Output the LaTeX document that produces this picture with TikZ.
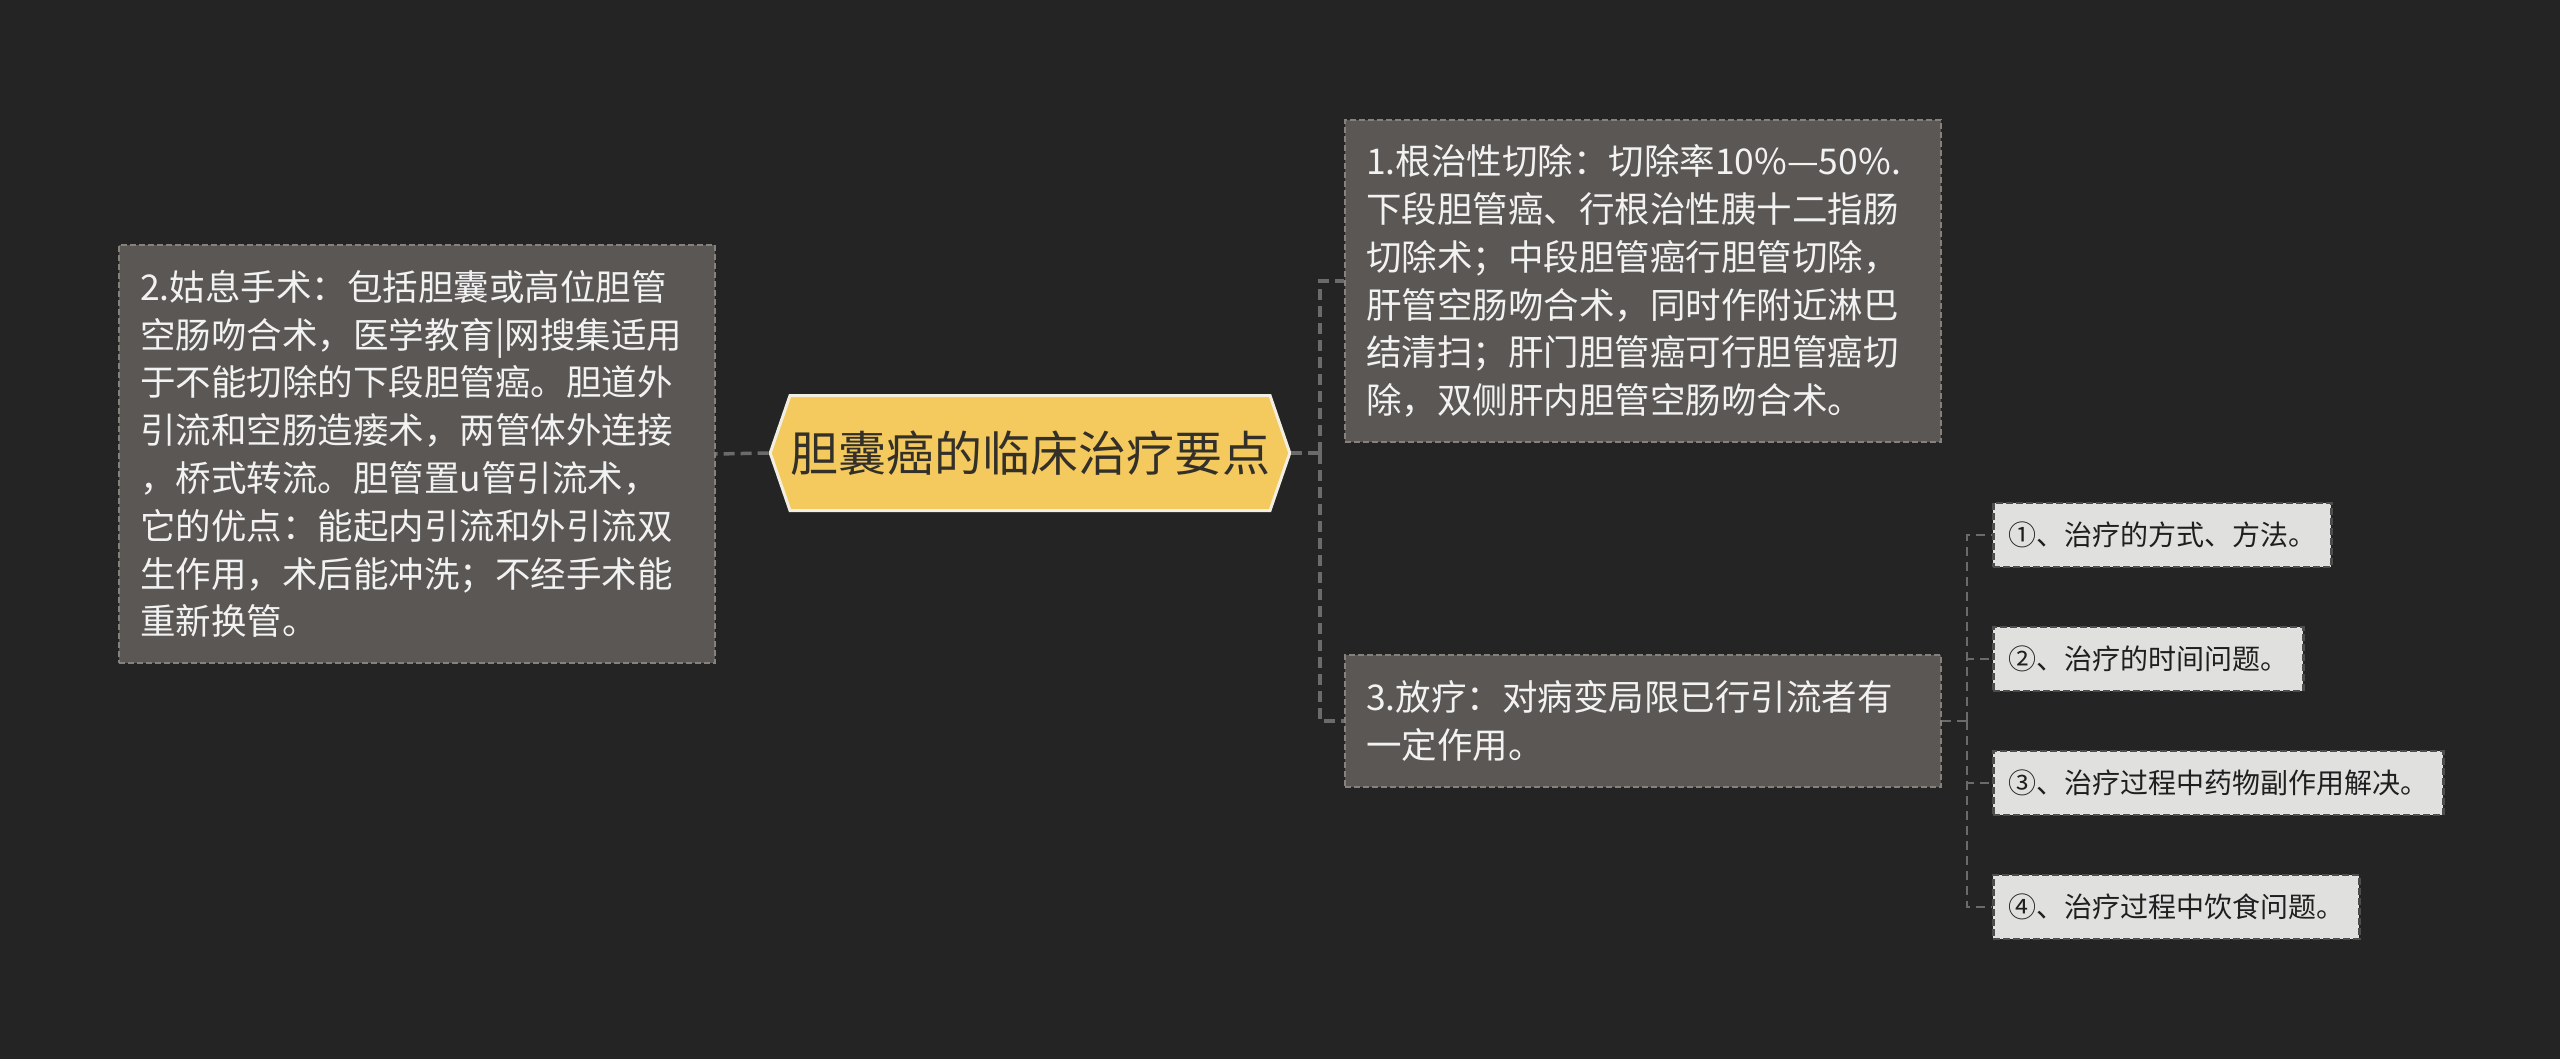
\documentclass[tikz,border=0pt]{standalone}
\usepackage{fontspec}
\usepackage{tikz}
\usetikzlibrary{shapes.symbols}
\newfontfamily\cjk{Noto Sans CJK SC}
\definecolor{bgcol}{HTML}{242424}
\definecolor{boxfill}{HTML}{5A5755}
\definecolor{boxline}{HTML}{85817D}
\definecolor{hexfill}{HTML}{F4C95D}
\definecolor{hexline}{HTML}{F2EFE2}
\definecolor{hextext}{HTML}{33302A}
\definecolor{leaffill}{HTML}{E0E0DE}
\definecolor{leafline}{HTML}{4D4D4D}
\definecolor{linkcol}{HTML}{6B6B6B}

\begin{document}
\begin{tikzpicture}
[x=1pt,y=-1pt]
\tikzset{
	topic/.style = {signal, signal to=west and east, signal pointer angle=142, fill=hexfill, draw=hexline, line width=3pt, inner xsep=0pt, inner ysep=0pt, minimum width=496pt, minimum height=115pt, text=hextext, font=\cjk\fontsize{48}{58}\selectfont},
	branch/.style = {rectangle, fill=boxfill, draw=boxline, line width=2pt, dash pattern=on 6pt off 3pt, text=white!95!black, align=left, inner xsep=21pt, inner ysep=0pt, minimum width=596pt, text width=554pt, font=\cjk\fontsize{35.5}{47.8}\selectfont},
	leaf/.style = {rectangle, anchor=west, fill=leaffill, draw=leafline, line width=2.5pt, dash pattern=on 7pt off 3pt, text=black!88, inner xsep=15pt, inner ysep=0pt, minimum height=64pt, font=\cjk\fontsize{28}{34}\selectfont},
	link/.style = {draw=linkcol, line width=3.5pt, dash pattern=on 11pt off 6pt},
	twig/.style = {draw=linkcol, line width=2.5pt, dash pattern=on 9pt off 6pt}
}

\fill[bgcol] (0,0) rectangle (2560,1059);

\node (0) [topic] at (1030,453) {胆囊癌的临床治疗要点};

\node (1) [branch, minimum height=322pt] at (1643,281) {1.根治性切除：切除率10\%—50\%.\\
下段胆管癌、行根治性胰十二指肠\\
切除术；中段胆管癌行胆管切除，\\
肝管空肠吻合术，同时作附近淋巴\\
结清扫；肝门胆管癌可行胆管癌切\\
除，双侧肝内胆管空肠吻合术。};

\node (2) [branch, minimum height=418pt] at (417,454) {2.姑息手术：包括胆囊或高位胆管\\
空肠吻合术，医学教育|网搜集适用\\
于不能切除的下段胆管癌。胆道外\\
引流和空肠造瘘术，两管体外连接\\
，桥式转流。胆管置u管引流术，\\
它的优点：能起内引流和外引流双\\
生作用，术后能冲洗；不经手术能\\
重新换管。};

\node (3) [branch, minimum height=132pt] at (1643,721) {3.放疗：对病变局限已行引流者有\\
一定作用。};

\node (3-1) [leaf] at (1992,535) {①、治疗的方式、方法。};
\node (3-2) [leaf] at (1992,659) {②、治疗的时间问题。};
\node (3-3) [leaf] at (1992,783) {③、治疗过程中药物副作用解决。};
\node (3-4) [leaf] at (1992,907) {④、治疗过程中饮食问题。};

\coordinate (j0) at (1320,453);
\coordinate (j3) at (1967,721);

\draw [link] (0.west) -- (2.east);
\draw [link] (0.east) -- (j0);
\draw [link] (j0) |- (1.west);
\draw [link] (j0) |- (3.west);

\draw [twig] (3.east) -- (j3);
\foreach \i in {1,...,4}
	\draw [twig] (j3) |- (3-\i.west);
\end{tikzpicture}
\end{document}
